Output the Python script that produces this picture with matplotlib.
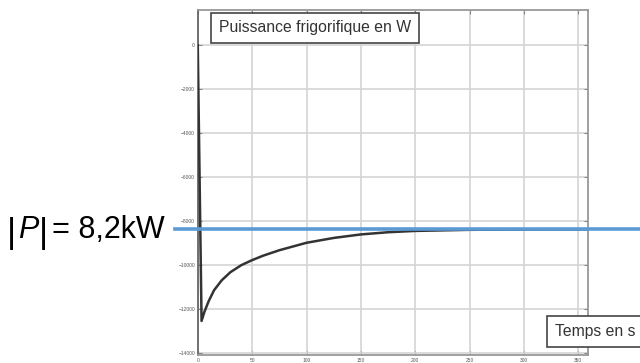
import matplotlib
matplotlib.use("Agg")
import matplotlib.pyplot as plt

# courbe de puissance frigorifique (W)
temps = [0, 3.5, 6, 10, 15, 22, 30, 40, 50, 60, 75, 100, 125, 150, 175, 200, 250, 300, 359]
puissance = [0, -12550, -12150, -11650, -11150, -10700, -10330, -10010, -9780, -9580, -9330,
             -8990, -8770, -8610, -8510, -8450, -8400, -8385, -8380]
niveau_p = -8380

x_ticks = [0, 50, 100, 150, 200, 250, 300, 350]
y_ticks = [0, -2000, -4000, -6000, -8000, -10000, -12000, -14000]

plt.rcParams["font.family"] = ["Liberation Sans", "DejaVu Sans"]

fig = plt.figure(figsize=(6.4, 3.63), dpi=100)
ax = fig.add_axes([0.309, 0.022, 0.610, 0.950])

ax.plot(temps, puissance, color="#333333", linewidth=1.8, zorder=3)
ax.axhline(niveau_p, xmin=-0.059, xmax=1.14, color="#5b9bd5", linewidth=2.6,
           clip_on=False, zorder=4)

ax.set_xlim(0, 359)
ax.set_ylim(-14100, 1600)
ax.set_xticks(x_ticks)
ax.set_yticks(y_ticks)
ax.grid(True, color="#d4d4d4", linewidth=1.2)
ax.tick_params(direction="in", length=3, width=0.8, color="#888888",
               labelsize=3.5, labelcolor="#555555", right=True, top=True, pad=2)
for side, sp in ax.spines.items():
    sp.set_color("#999999")
    sp.set_linewidth(1.3)
ax.spines["left"].set_color("#666666")

box = dict(boxstyle="square,pad=0.5", facecolor="white", edgecolor="#444444", linewidth=1.2)
fig.text(0.342, 0.923, "Puissance frigorifique en W", fontsize=11.3, color="#333333",
         ha="left", va="center", bbox=box, zorder=5)
fig.text(0.867, 0.087, "Temps en s", fontsize=11.3, color="#333333",
         ha="left", va="center", bbox=box, zorder=5)

# |P| = 8,2kW
fig.text(0.010, 0.330, "|", fontsize=25, color="black", ha="left", va="baseline")
fig.text(0.029, 0.344, "P", fontsize=22, style="italic", color="black", ha="left", va="baseline")
fig.text(0.060, 0.330, "|", fontsize=25, color="black", ha="left", va="baseline")
fig.text(0.081, 0.344, "= 8,2kW", fontsize=22, color="black", ha="left", va="baseline")

fig.savefig("out.png", dpi=100)
